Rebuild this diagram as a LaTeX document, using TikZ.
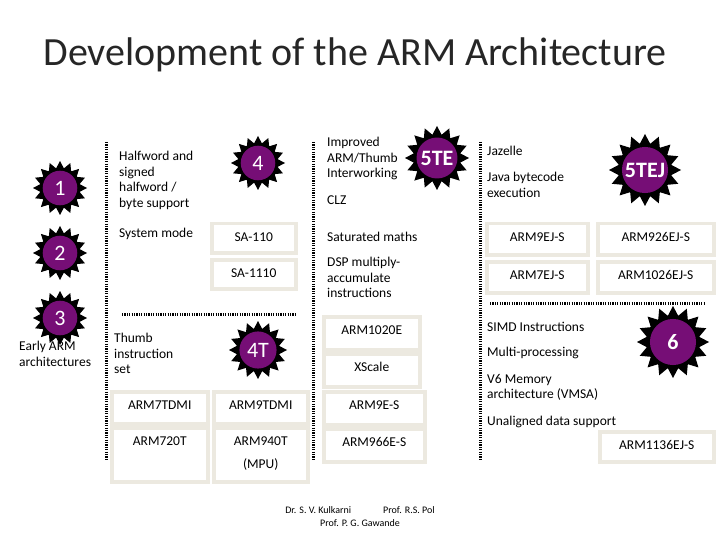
\documentclass[tikz,border=0pt]{standalone}
\usepackage{fontspec}
\setmainfont{Carlito}
\usetikzlibrary{shapes.geometric}
\definecolor{cellb}{HTML}{ECE9E0}
\definecolor{purp}{HTML}{760E76}
\tikzset{
  cell/.style={draw=cellb,line width=3.5pt,fill=white,inner sep=0pt,anchor=north west},
  txt/.style={anchor=north west,align=left,inner sep=0pt,font=\fontsize{13.5}{15.5}\selectfont},
  dots/.style={line width=3pt,dash pattern=on 1.2pt off 1.2pt},
  burst/.style={star,star points=16,star point ratio=1.35,fill=black,minimum size=#1,inner sep=0pt},
}
\newcommand{\badge}[5]{%
  \node[burst=#3] (#1) at #2 {};
  \node[circle,fill=purp,minimum size=0.64*#3,inner sep=0pt,text=white,font=\fontsize{22}{22}\selectfont#5] (#1c) at #2 {#4};}
\newcommand{\cellbox}[6]{% name, x, y, w, h, text
  \node[cell,minimum width=#4pt,minimum height=#5pt] (#1) at (#2,#3) {};
  \node[font=\fontsize{13.5}{15}\selectfont,anchor=north] (#1t) at ([yshift=-7pt]#1.north) {#6};}
\begin{document}
\begin{tikzpicture}[x=1pt,y=-1pt]
\useasboundingbox (0,0) rectangle (720,540);
\node[font=\fontsize{40}{44}\selectfont,text=black!85] (title) at (355,55) {Development of the ARM Architecture};
\coordinate (v1a) at (106,142); \coordinate (v1b) at (106,460);
\coordinate (v2a) at (313,142); \coordinate (v2b) at (313,460);
\coordinate (v3a) at (480,142); \coordinate (v3b) at (480,460);
\coordinate (h1a) at (122,314); \coordinate (h1b) at (296,314);
\coordinate (h2a) at (490,303); \coordinate (h2b) at (705,303);
\draw[dots] (v1a)--(v1b); \draw[dots] (v2a)--(v2b); \draw[dots] (v3a)--(v3b);
\draw[dots] (h1a)--(h1b); \draw[dots] (h2a)--(h2b);
\badge{b1}{(60,188)}{54}{1}{}
\badge{b2}{(60,253)}{54}{2}{}
\badge{b3}{(60,318)}{54}{3}{}
\badge{b4}{(258,163)}{54}{4}{}
\badge{b4t}{(258,350)}{58}{4T}{}
\badge{b5te}{(437,158)}{64}{5TE}{\bfseries}
\badge{b5tej}{(645,170)}{72}{5TEJ}{\bfseries}
\badge{b6}{(673,342)}{72}{6}{\bfseries}
\node[txt] (early) at (19,341) {Early ARM\\architectures};
\node[txt] (hw) at (119,151) {Halfword and\\signed\\halfword /\\byte support};
\node[txt] (sys) at (119,228) {System mode};
\node[txt] (thumb) at (114,333) {Thumb\\instruction\\set};
\node[txt] (imp) at (327,137) {Improved\\ARM/Thumb\\Interworking};
\node[txt] (clz) at (327,196) {CLZ};
\node[txt] (sat) at (327,232) {Saturated maths};
\node[txt] (dsp) at (327,257) {DSP multiply-\\accumulate\\instructions};
\node[txt] (jaz) at (487,146) {Jazelle};
\node[txt] (java) at (487,172) {Java bytecode\\execution};
\node[txt] (simd) at (487,322) {SIMD Instructions};
\node[txt] (mp) at (487,347) {Multi-processing};
\node[txt] (v6) at (487,374) {V6 Memory\\architecture (VMSA)};
\node[txt] (una) at (487,416) {Unaligned data support};
\cellbox{sa110}{210}{222}{84}{29}{SA-110}
\cellbox{sa1110}{210}{258}{84}{29}{SA-1110}
\cellbox{a7tdmi}{110}{390}{96}{32}{ARM7TDMI}
\cellbox{a9tdmi}{212}{390}{94}{32}{ARM9TDMI}
\cellbox{a720}{110}{426}{96}{54}{ARM720T}
\node[cell,minimum width=94pt,minimum height=54pt] (a940) at (212,426) {};
\node[font=\fontsize{13.5}{15}\selectfont,anchor=north,align=center] (a940t) at ([yshift=-7pt]a940.north) {ARM940T\\[8pt](MPU)};
\cellbox{a1020}{322}{315}{96}{33}{ARM1020E}
\cellbox{xsc}{322}{352}{96}{33}{XScale}
\cellbox{a9es}{322}{390}{101}{33}{ARM9E-S}
\cellbox{a966}{322}{427}{101}{33}{ARM966E-S}
\cellbox{a9ej}{485}{222}{101}{31}{ARM9EJ-S}
\cellbox{a926}{596}{222}{116}{31}{ARM926EJ-S}
\cellbox{a7ej}{485}{260}{101}{31}{ARM7EJ-S}
\cellbox{a1026}{596}{260}{116}{31}{ARM1026EJ-S}
\cellbox{a1136}{598}{430}{114}{30}{ARM1136EJ-S}
\node[font=\fontsize{10}{12}\selectfont] (f1) at (360,510) {Dr. S. V. Kulkarni\hspace{3.2em}Prof. R.S. Pol};
\node[font=\fontsize{10}{12}\selectfont] (f2) at (360,523) {Prof. P. G. Gawande};
\end{tikzpicture}
\end{document}
